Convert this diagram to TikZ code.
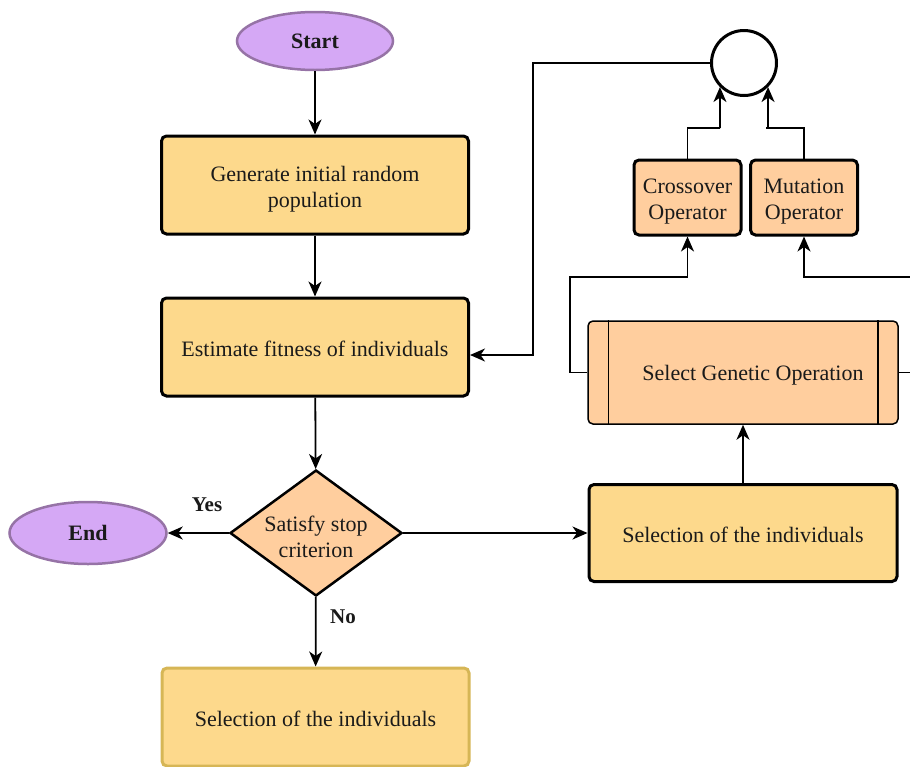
\documentclass[tikz,border=0pt]{standalone}
\usepackage{fontspec}
\setmainfont{Liberation Serif}
\usetikzlibrary{shapes.geometric,arrows.meta,calc}
\definecolor{boxyellow}{HTML}{FDD98C}
\definecolor{boxorange}{HTML}{FFCE9E}
\definecolor{termfill}{HTML}{D5A8F5}
\definecolor{termline}{HTML}{9673A6}
\definecolor{goldline}{HTML}{D6B656}
\definecolor{txt}{HTML}{1A1A1A}
\newcommand{\tallstrut}{\rule{0pt}{23pt}}
\newcommand{\midstrut}{\rule{0pt}{20pt}}
\begin{document}
\begin{tikzpicture}[x=1pt,y=-1pt,
 every node/.style={text=txt, font=\fontsize{22}{26}\selectfont},
 terminal/.style={ellipse, draw=termline, fill=termfill, line width=2.5pt, font=\fontsize{22}{26}\selectfont\bfseries},
 procbox/.style={rectangle, rounded corners=5pt, draw=black, fill=boxyellow, line width=3pt, minimum width=307pt, minimum height=98pt, align=center},
 opbox/.style={rectangle, rounded corners=5pt, draw=black, fill=boxorange, line width=3pt, minimum width=107pt, minimum height=75pt, align=center, inner sep=2pt},
 arr/.style={draw=black, line width=1.8pt, -{Stealth[length=15pt,width=13pt,inset=4.5pt]}},
 lbl/.style={font=\fontsize{21}{24}\selectfont\bfseries}
]
\useasboundingbox (0,0) rectangle (910,766);
\node[terminal, minimum width=156pt, minimum height=58pt] (start) at (315,41) {Start};
\node[procbox] (gen) at (315,185) {\tallstrut Generate initial random\\population};
\node[procbox] (est) at (315,347) {\midstrut Estimate fitness of individuals};
\node[diamond, draw=black, fill=boxorange, line width=2.5pt, minimum width=172pt, minimum height=126pt, inner sep=0pt, aspect=1.37, align=center] (dec) at (316,533) {\tallstrut Satisfy stop\\criterion};
\node[terminal, minimum width=157pt, minimum height=62pt] (end) at (88,533) {End};
\node[procbox, draw=goldline] (sel1) at (315.5,717) {\midstrut Selection of the individuals};
\node[procbox, minimum width=308pt, minimum height=97pt] (sel2) at (743,533) {\midstrut Selection of the individuals};
\node[rectangle, rounded corners=5pt, draw=black, fill=boxorange, line width=1.5pt, minimum width=310pt, minimum height=103pt] (sgo) at (743,372.5) {\midstrut\hspace*{20pt}Select Genetic Operation};
\draw[line width=1.5pt] ([xshift=21pt]sgo.north west) -- ([xshift=21pt]sgo.south west);
\draw[line width=1.5pt] ([xshift=-21pt]sgo.north east) -- ([xshift=-21pt]sgo.south east);
\node[circle, draw=black, line width=3pt, minimum size=65pt, fill=white] (c) at (744,63) {};
\node[opbox] (cross) at (687.5,197.5) {\tallstrut Crossover\\Operator};
\node[opbox] (mut) at (804,197.5) {\tallstrut Mutation\\Operator};
\node[lbl] (yes) at (207,505) {Yes};
\node[lbl] (no) at (343,617) {No};
\coordinate (lj) at (570,277);
\coordinate (rj) at (920,277);
\coordinate (xj) at (720,128);
\coordinate (mj) at (766,128);
\coordinate (fj) at (533,355);
\draw[arr] (start) -- (gen);
\draw[arr] (gen) -- (est);
\draw[arr] (est) -- (dec);
\draw[arr] (dec) -- (end);
\draw[arr] (dec) -- (sel1);
\draw[arr] (dec) -- (sel2);
\draw[arr] (sel2) -- (sgo);
\draw[arr] (sgo.west) -| (lj) -| (cross.south);
\draw[arr] (sgo.east) -| (rj) -| (mut.south);
\draw[arr] (cross.north) |- (xj) -| (c.south west);
\draw[arr] (mut.north) |- (mj) -| (c.south east);
\draw[arr] (c.west) -| (fj) -- (est.east |- fj);
\end{tikzpicture}
\end{document}
